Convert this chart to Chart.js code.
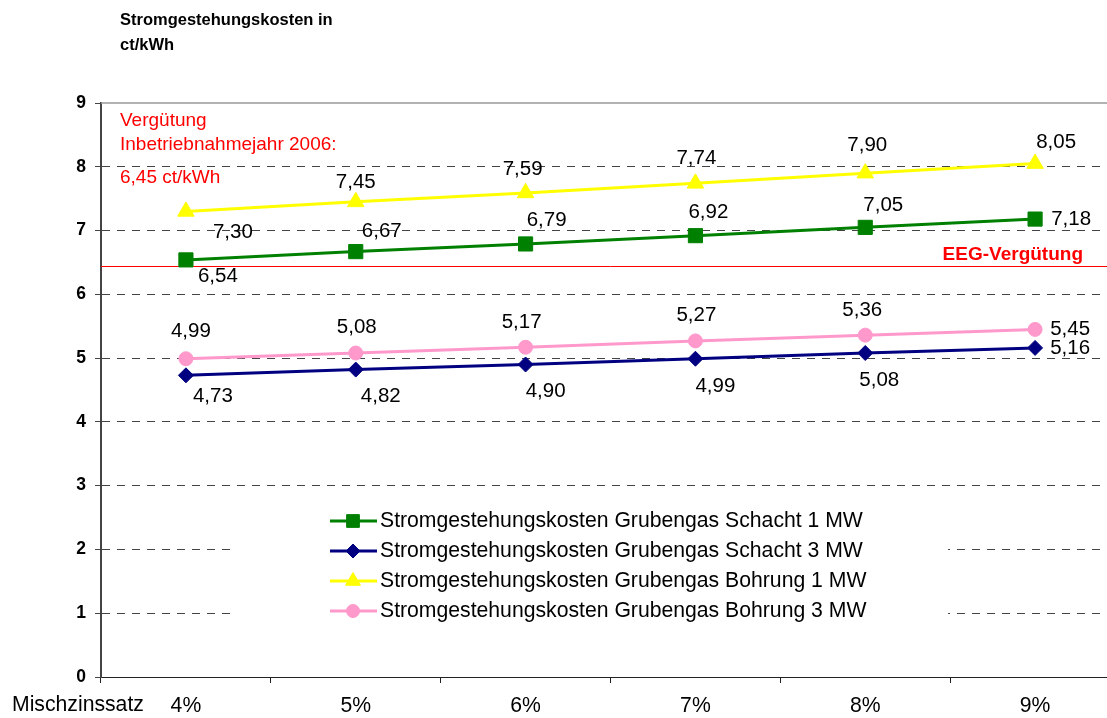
<!DOCTYPE html>
<html>
<head>
<meta charset="utf-8">
<script src="https://cdn.jsdelivr.net/npm/chart.js@4.4.1/dist/chart.umd.min.js"></script>
<style>
  html, body { margin: 0; padding: 0; background: #fff; overflow: hidden; }
  #wrap { position: relative; width: 1131px; height: 718px; }
</style>
</head>
<body>
<div id="wrap"><canvas id="chart" width="1131" height="718"></canvas></div>
<script>
// values
const categories = ['4%', '5%', '6%', '7%', '8%', '9%'];
const schacht1MW = [6.54, 6.67, 6.79, 6.92, 7.05, 7.18];
const schacht3MW = [4.73, 4.82, 4.90, 4.99, 5.08, 5.16];
const bohrung1MW = [7.30, 7.45, 7.59, 7.74, 7.90, 8.05];
const bohrung3MW = [4.99, 5.08, 5.17, 5.27, 5.36, 5.45];
const yMin = 0;
const yMax = 9;
const eegVerguetung = 6.45;

const FONT = '"Liberation Sans", Arial, sans-serif';
const TXT = 20.5;   // data labels
const AXT = 21.2;   // legend + category labels
Chart.defaults.font.family = FONT;
Chart.defaults.font.size = TXT;
Chart.defaults.color = '#000';

const fmt = v => v.toFixed(2).replace('.', ',');

// white box behind the legend hides the grid lines, then the EEG line
const backgroundPlugin = {
  id: 'background',
  beforeDatasetsDraw(chart) {
    const { ctx, chartArea } = chart;
    const y = chart.scales.y;
    ctx.save();
    ctx.fillStyle = '#fff';
    ctx.fillRect(232, 494, 716, 142);

    // top border of plot area
    ctx.strokeStyle = '#999';
    ctx.lineWidth = 1.5;
    ctx.beginPath();
    ctx.moveTo(chartArea.left, chartArea.top);
    ctx.lineTo(chartArea.right, chartArea.top);
    ctx.stroke();

    // EEG-Vergütung line
    const ey = Math.round(y.getPixelForValue(eegVerguetung)) + 0.5;
    ctx.strokeStyle = '#ff0000';
    ctx.lineWidth = 1;
    ctx.beginPath();
    ctx.moveTo(chartArea.left, ey);
    ctx.lineTo(chartArea.right, ey);
    ctx.stroke();
    ctx.restore();
  }
};

const textPlugin = {
  id: 'texts',
  afterDatasetsDraw(chart) {
    const { ctx, chartArea } = chart;
    const y = chart.scales.y;
    ctx.save();

    // data labels
    ctx.font = TXT + 'px ' + FONT;
    ctx.fillStyle = '#000';
    ctx.textAlign = 'center';
    ctx.textBaseline = 'middle';
    chart.data.datasets.forEach((ds, i) => {
      const meta = chart.getDatasetMeta(i);
      meta.data.forEach((pt, j) => {
        const off = ds.labelOffsets[j];
        ctx.fillText(fmt(ds.data[j]), pt.x + off[0], pt.y + off[1]);
      });
    });

    // title
    ctx.font = 'bold 16.5px ' + FONT;
    ctx.textAlign = 'left';
    ctx.fillText('Stromgestehungskosten in', 120, 20);
    ctx.fillText('ct/kWh', 120, 45);

    // red notes
    ctx.fillStyle = '#ff0000';
    ctx.font = '19px ' + FONT;
    ctx.fillText('Vergütung', chartArea.left + 19, 121);
    ctx.fillText('Inbetriebnahmejahr 2006:', chartArea.left + 19, 145);
    ctx.fillText('6,45 ct/kWh', chartArea.left + 19, 178);
    ctx.font = 'bold 19px ' + FONT;
    ctx.textAlign = 'right';
    ctx.fillText('EEG-Vergütung', 1083, y.getPixelForValue(eegVerguetung) - 11);

    // x axis caption
    ctx.fillStyle = '#000';
    ctx.font = AXT + 'px ' + FONT;
    ctx.textAlign = 'left';
    ctx.fillText('Mischzinssatz', 12, 705);

    // legend
    const rows = [521, 551, 581, 611];
    chart.data.datasets.forEach((ds, i) => {
      const ly = rows[i];
      ctx.strokeStyle = ds.borderColor;
      ctx.lineWidth = 3;
      ctx.beginPath();
      ctx.moveTo(330, ly);
      ctx.lineTo(377, ly);
      ctx.stroke();
      ctx.fillStyle = ds.backgroundColor;
      ctx.strokeStyle = ds.backgroundColor;
      ctx.lineWidth = 1;
      Chart.helpers.drawPoint(ctx, {
        pointStyle: ds.pointStyle, radius: ds.legendRadius, rotation: 0, borderWidth: 1
      }, 353, ly);
      ctx.fillStyle = '#000';
      ctx.font = AXT + 'px ' + FONT;
      ctx.textAlign = 'left';
      ctx.fillText(ds.label, 380, ly);
    });
    ctx.restore();
  }
};

const ctx = document.getElementById('chart').getContext('2d');
new Chart(ctx, {
  type: 'line',
  data: {
    labels: categories,
    datasets: [
      {
        label: 'Stromgestehungskosten Grubengas Schacht 1 MW',
        data: schacht1MW,
        borderColor: '#008000',
        backgroundColor: '#008000',
        pointStyle: 'rect',
        pointRadius: 10,
        legendRadius: 9,
        labelOffsets: [[32, 16], [26, -20], [21, -24], [13, -23], [18, -22], [36, 0]]
      },
      {
        label: 'Stromgestehungskosten Grubengas Schacht 3 MW',
        data: schacht3MW,
        borderColor: '#000080',
        backgroundColor: '#000080',
        pointStyle: 'rectRot',
        pointRadius: 7.5,
        legendRadius: 7,
        labelOffsets: [[27, 21], [25, 27], [20, 27], [20, 28], [14, 27], [35, 0]]
      },
      {
        label: 'Stromgestehungskosten Grubengas Bohrung 1 MW',
        data: bohrung1MW,
        borderColor: '#ffff00',
        backgroundColor: '#ffff00',
        pointStyle: 'triangle',
        pointRadius: 9.5,
        legendRadius: 8.5,
        labelOffsets: [[47, 21], [0, -20], [-3, -24], [1, -25], [2, -28], [21, -21]]
      },
      {
        label: 'Stromgestehungskosten Grubengas Bohrung 3 MW',
        data: bohrung3MW,
        borderColor: '#ff99cc',
        backgroundColor: '#ff99cc',
        pointStyle: 'circle',
        pointRadius: 7,
        legendRadius: 6.5,
        labelOffsets: [[5, -27], [1, -26], [-4, -25], [1, -26], [-3, -25], [35, 0]]
      }
    ]
  },
  options: {
    responsive: false,
    animation: false,
    datasets: {
      line: { borderWidth: 3, pointBorderWidth: 1, tension: 0, pointHoverRadius: 8 }
    },
    layout: { padding: { top: 103, right: 4, left: 0, bottom: 0 } },
    plugins: {
      legend: { display: false },
      tooltip: { enabled: false }
    },
    scales: {
      x: {
        offset: true,
        afterFit(scale) { scale.height = 41; },
        grid: {
          offset: true,
          drawOnChartArea: false,
          drawTicks: true,
          tickLength: 6,
          tickColor: '#222'
        },
        border: { color: '#222', width: 1 },
        ticks: { padding: 10, font: { size: AXT }, color: '#000' }
      },
      y: {
        min: yMin,
        max: yMax,
        afterFit(scale) { scale.width = 101; },
        grid: {
          color: c => (c.tick.value === yMin || c.tick.value === yMax) ? 'rgba(0,0,0,0)' : '#444',
          lineWidth: 1,
          tickLength: 6,
          tickColor: '#444'
        },
        border: { color: '#444', width: 2, dash: [8, 7] },
        ticks: { stepSize: 1, padding: 9, font: { size: 17.5, weight: 'bold' }, color: '#000' }
      }
    }
  },
  plugins: [backgroundPlugin, textPlugin]
});
</script>
</body>
</html>
